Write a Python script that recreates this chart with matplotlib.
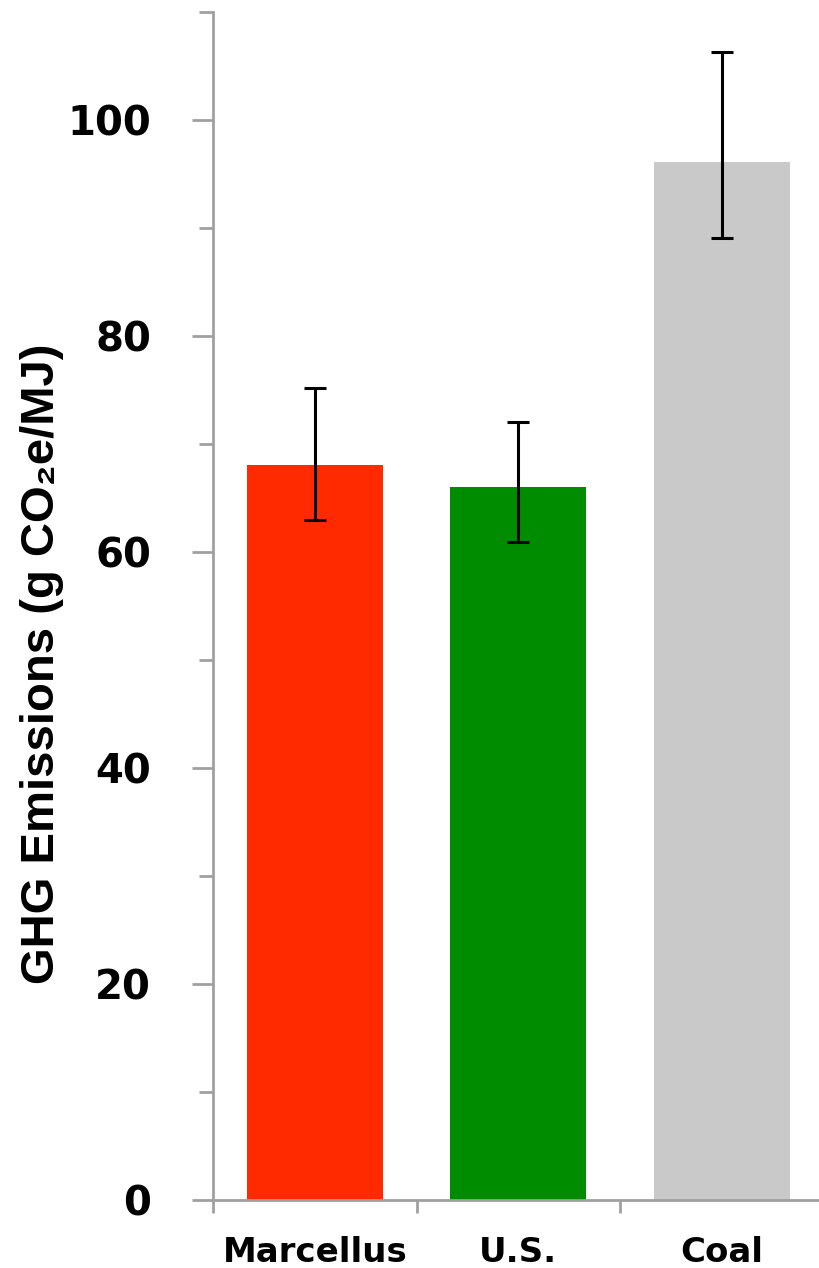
import numpy as np
import matplotlib.pyplot as plt
from matplotlib.font_manager import FontProperties

categories = ["Marcellus", "U.S.", "Coal"]
values = [68.1, 66.0, 96.1]
err_low = [5.1, 5.1, 7.0]
err_high = [7.1, 6.0, 10.2]
colors = ["#FF2A00", "#008C00", "#C9C9C9"]

fig = plt.figure(figsize=(8.19, 12.68), dpi=100)
ax = fig.add_axes([213 / 819, 68 / 1268, 610.5 / 819, 1188 / 1268])

x = np.arange(len(categories))
ax.bar(x, values, width=0.67, color=colors, zorder=2)
ax.errorbar(x, values, yerr=[err_low, err_high], fmt="none", ecolor="black",
            elinewidth=2.2, capsize=8, capthick=2.2, zorder=3)

ax.set_xlim(-0.5, 2.5)
ax.set_ylim(0, 110)
ax.set_yticks(np.arange(0, 101, 20))
ax.set_yticklabels([str(v) for v in range(0, 101, 20)],
                   fontproperties=FontProperties(family="DejaVu Sans", weight="bold", size=29))
ax.set_yticks(np.arange(10, 111, 20), minor=True)
ax.set_xticks([-0.5, 0.5, 1.5, 2.5])
ax.set_xticklabels([])
ax.set_xticks(x, minor=True)
ax.set_xticklabels(categories, minor=True,
                   fontproperties=FontProperties(family="DejaVu Sans", weight="bold", size=24.5))

for s in ["top", "right"]:
    ax.spines[s].set_visible(False)
for s in ["left", "bottom"]:
    ax.spines[s].set_color("#A0A0A0")
    ax.spines[s].set_linewidth(2)

ax.tick_params(axis="y", which="major", length=15, width=2, color="#A0A0A0", pad=29.5)
ax.tick_params(axis="y", which="minor", length=10, width=2, color="#A0A0A0")
ax.tick_params(axis="x", which="major", length=9, width=2, color="#A0A0A0")
ax.tick_params(axis="x", which="minor", length=0, pad=26)

ax.set_ylabel("GHG Emissions (g CO\u2082e/MJ)", fontsize=34, fontweight="bold",
              family=["Liberation Sans", "DejaVu Sans"])
ax.yaxis.set_label_coords(-0.244, 0.451)

fig.savefig("out.png", dpi=100)
